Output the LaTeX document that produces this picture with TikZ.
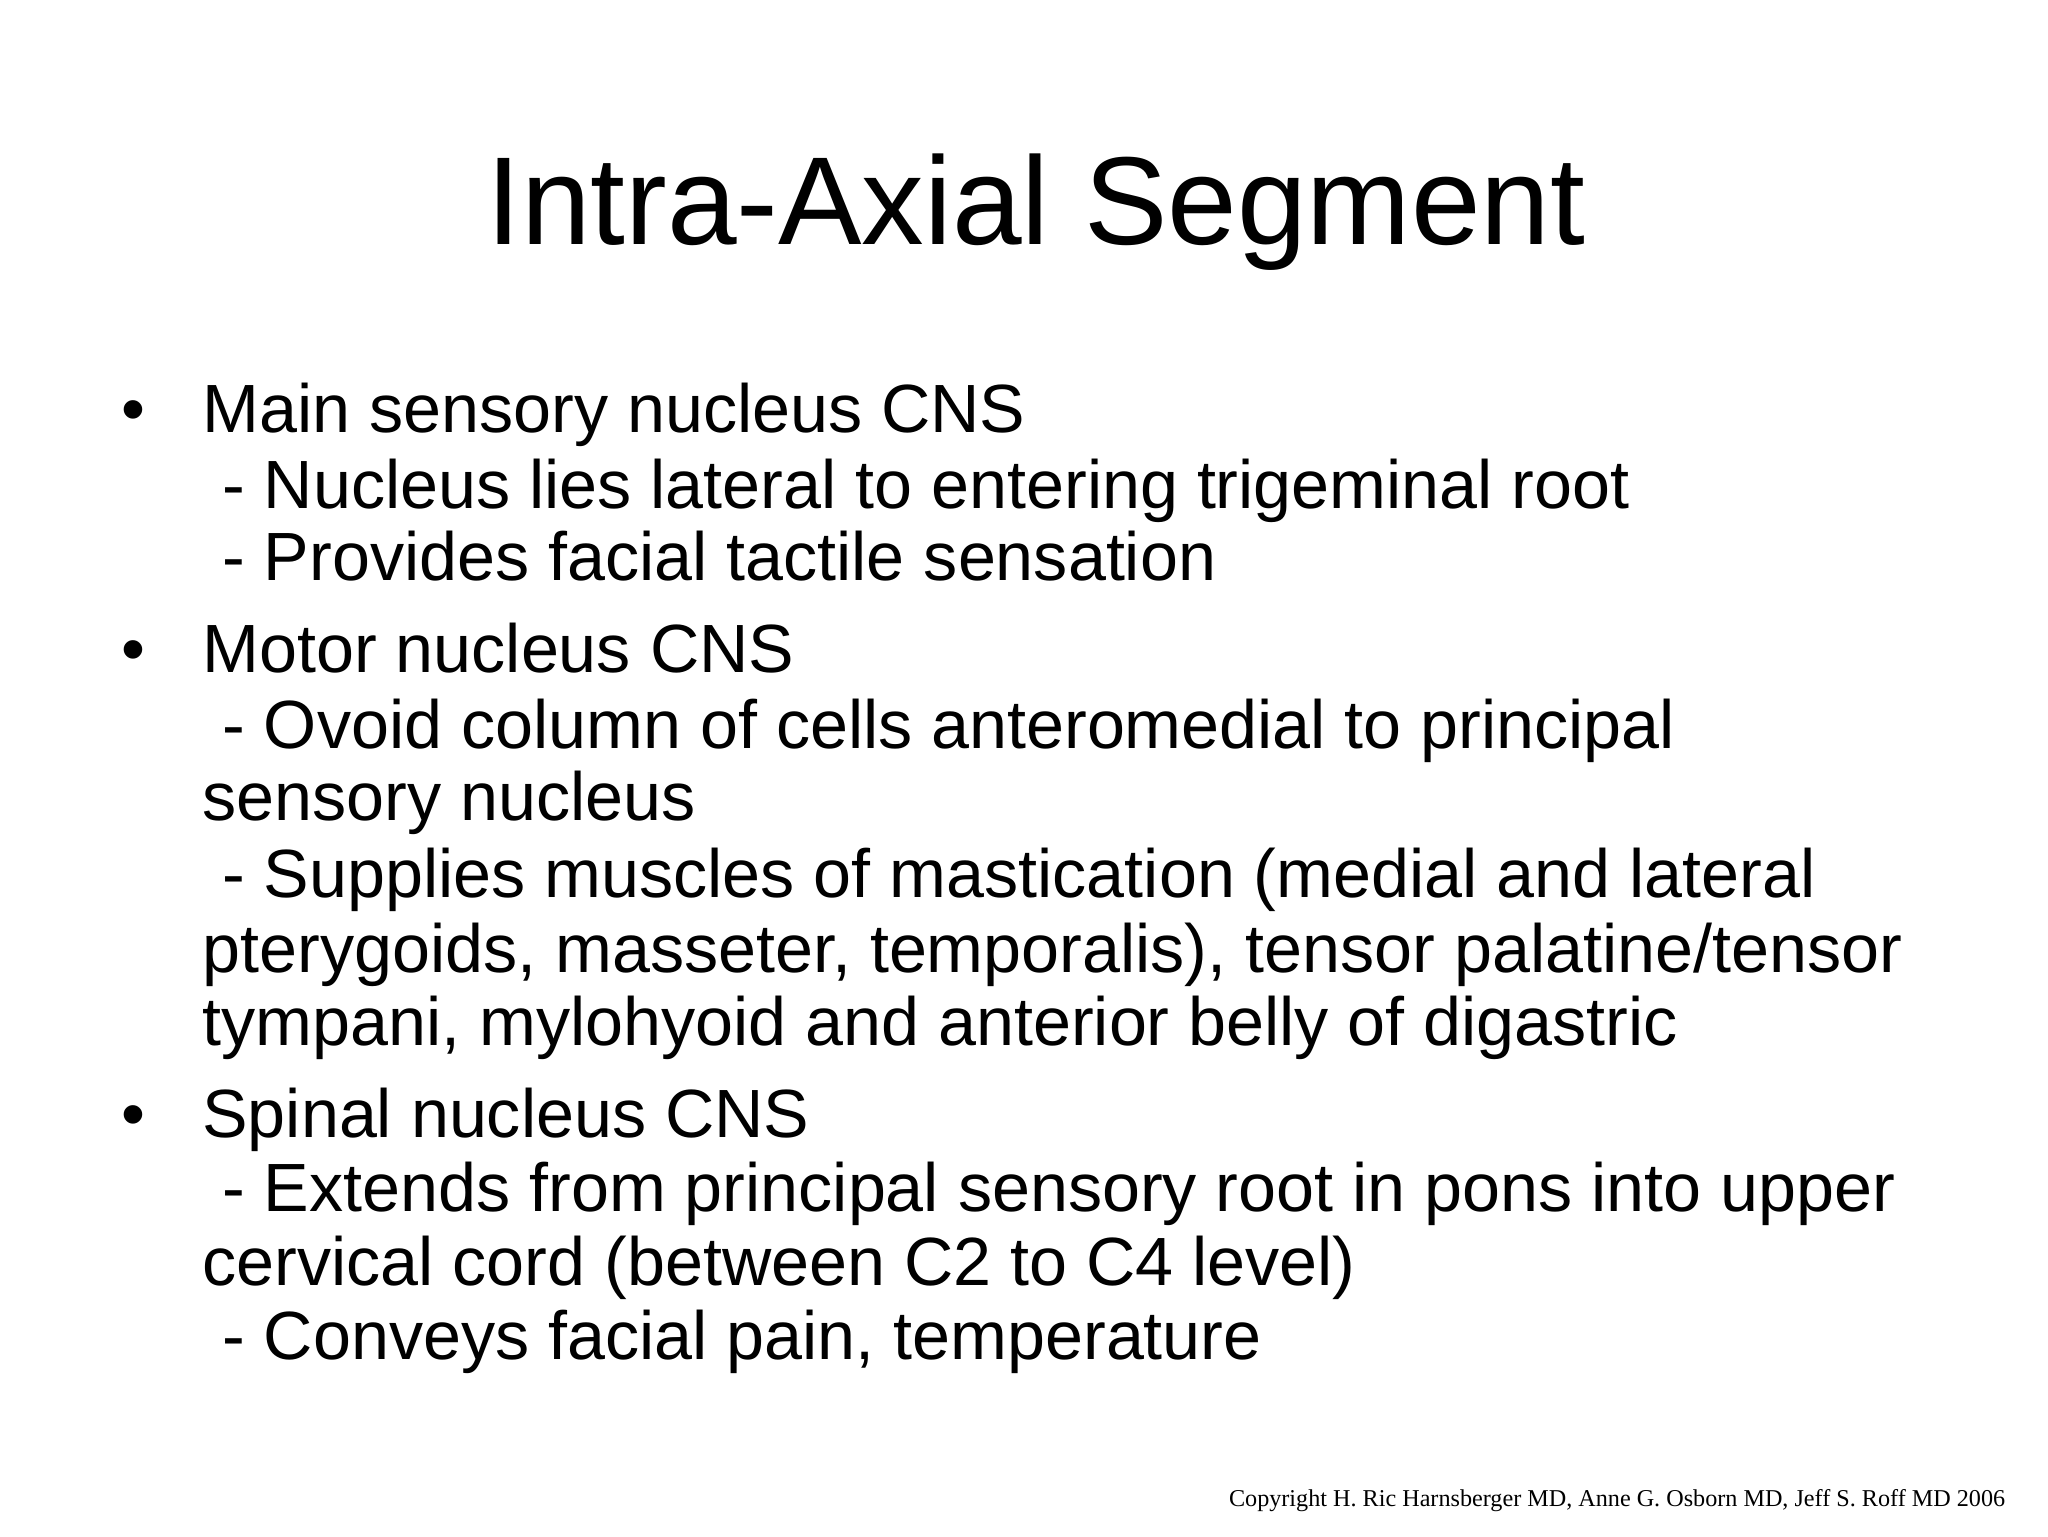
\documentclass[tikz,border=0pt]{standalone}
\usepackage{fontspec}
\setmainfont{Liberation Sans}
\newfontfamily\serifcopy{Liberation Serif}
\begin{document}
\begin{tikzpicture}[x=0.464pt,y=-0.464pt,
  body/.style={anchor=base west,inner sep=0pt,font=\fontsize{24}{26}\selectfont},
  bul/.style={anchor=base,inner sep=0pt,font=\fontsize{24}{26}\selectfont}]
\useasboundingbox (0,0) rectangle (1552,1164);
\node[anchor=base,inner sep=0pt,font=\fontsize{44}{48}\selectfont] (title) at (785,185) {Intra-Axial Segment};
\node[bul] (b1) at (101,328) {•};
\node[body] (l1) at (153,328) {Main sensory nucleus CNS};
\node[body] (l2) at (168,385) {- Nucleus lies lateral to entering trigeminal root};
\node[body] (l3) at (168,440) {- Provides facial tactile sensation};
\node[bul] (b2) at (101,510) {•};
\node[body] (l4) at (153,510) {Motor nucleus CNS};
\node[body] (l5) at (168,567) {- Ovoid column of cells anteromedial to principal};
\node[body] (l6) at (153,622) {sensory nucleus};
\node[body] (l7) at (168,680) {- Supplies muscles of mastication (medial and lateral};
\node[body] (l8) at (153,737) {pterygoids, masseter, temporalis), tensor palatine/tensor};
\node[body] (l9) at (153,792) {tympani, mylohyoid and anterior belly of digastric};
\node[bul] (b3) at (101,862) {•};
\node[body] (l10) at (153,862) {Spinal nucleus CNS};
\node[body] (l11) at (168,918) {- Extends from principal sensory root in pons into upper};
\node[body] (l12) at (153,974) {cervical cord (between C2 to C4 level)};
\node[body] (l13) at (168,1030) {- Conveys facial pain, temperature};
\node[anchor=base east,inner sep=0pt,font=\serifcopy\fontsize{8.5}{10}\selectfont] (copy) at (1520,1142) {Copyright H. Ric Harnsberger MD, Anne G. Osborn MD, Jeff S. Roff MD 2006};
\end{tikzpicture}
\end{document}
